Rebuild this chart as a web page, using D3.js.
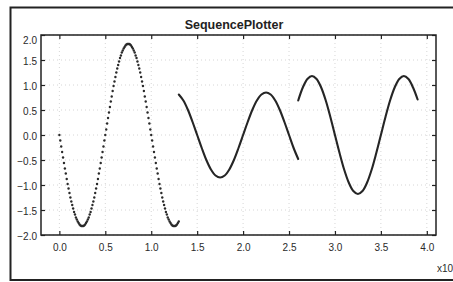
<!DOCTYPE html>
<html>
<head>
<meta charset="utf-8">
<script src="https://cdn.jsdelivr.net/npm/d3@7"></script>
<style>
  body { margin: 0; background: #fff; }
  text { font-family: "Liberation Sans", Arial, sans-serif; }
</style>
</head>
<body>
<svg id="chart" width="453" height="282"></svg>
<script>
'use strict';

// tick labels
var xTicks = [0.0, 0.5, 1.0, 1.5, 2.0, 2.5, 3.0, 3.5, 4.0];
var yTicks = [-2.0, -1.5, -1.0, -0.5, 0.0, 0.5, 1.0, 1.5, 2.0];

// first sequence: sparse dots, one sample every 0.01 starting at 0
var seq1Start = 0.0, seq1Step = 0.01;
var seq1 = [
  0.00, -0.11, -0.23, -0.34, -0.45, -0.56, -0.67, -0.77, -0.88, -0.98,
  -1.07, -1.16, -1.25, -1.33, -1.40, -1.47, -1.54, -1.59, -1.65, -1.69,
  -1.73, -1.76, -1.79, -1.81, -1.82, -1.82,
  -1.82, -1.81, -1.79, -1.76, -1.73, -1.69, -1.65, -1.59, -1.54, -1.47,
  -1.40, -1.33, -1.25, -1.16, -1.07, -0.98, -0.88, -0.77, -0.67, -0.56,
  -0.45, -0.34, -0.23, -0.11, 0.00,
  0.11, 0.23, 0.34, 0.45, 0.56, 0.67, 0.77, 0.88, 0.98, 1.07,
  1.16, 1.25, 1.33, 1.40, 1.47, 1.54, 1.59, 1.65, 1.69, 1.73,
  1.76, 1.79, 1.81, 1.82, 1.82,
  1.82, 1.81, 1.79, 1.76, 1.73, 1.69, 1.65, 1.59, 1.54, 1.47,
  1.40, 1.33, 1.25, 1.16, 1.07, 0.98, 0.88, 0.77, 0.67, 0.56,
  0.45, 0.34, 0.23, 0.11, 0.00,
  -0.11, -0.23, -0.34, -0.45, -0.56, -0.67, -0.77, -0.88, -0.98, -1.07,
  -1.16, -1.25, -1.33, -1.40, -1.47, -1.54, -1.59, -1.65, -1.69, -1.73,
  -1.76, -1.79, -1.81, -1.82, -1.82,
  -1.82, -1.81, -1.79, -1.76, -1.73
];

// second sequence (dense, looks like a line)
var seq2Start = 1.30, seq2Step = 0.05;
var seq2 = [
  0.81, 0.69, 0.50, 0.26, 0.00, -0.26, -0.50, -0.69, -0.81, -0.85,
  -0.81, -0.69, -0.50, -0.26, 0.00, 0.26, 0.50, 0.69, 0.81, 0.85,
  0.81, 0.69, 0.50, 0.26, 0.00, -0.26, -0.48
];

// third sequence
var seq3Start = 2.60, seq3Step = 0.05;
var seq3 = [
  0.69, 0.95, 1.12, 1.18, 1.12, 0.95, 0.69, 0.36, 0.00, -0.36,
  -0.69, -0.95, -1.12, -1.18, -1.12, -0.95, -0.69, -0.36, 0.00, 0.36,
  0.69, 0.95, 1.12, 1.18, 1.12, 0.95, 0.71
];

(function () {
  var svg = d3.select('#chart');
  var pLeft = 41, pRight = 436, pTop = 35, pBottom = 235;

  var x = d3.scaleLinear().domain([-0.2, 4.1]).range([pLeft, pRight]);
  var y = d3.scaleLinear().domain([-2, 2]).range([pBottom, pTop]);

  function toPoints(vals, start, step) {
    return vals.map(function (v, i) { return { x: start + i * step, y: v }; });
  }

  // outer page frame (scanned printout border)
  svg.append('rect')
    .attr('x', 10.5).attr('y', 7.5)
    .attr('width', 470).attr('height', 272.5)
    .attr('fill', 'none').attr('stroke', '#222').attr('stroke-width', 2);

  // title
  svg.append('text')
    .attr('x', 234).attr('y', 29)
    .attr('text-anchor', 'middle')
    .attr('font-size', '12.5px').attr('font-weight', 'bold')
    .attr('fill', '#222')
    .text('SequencePlotter');

  // grid
  var grid = svg.append('g').attr('stroke', '#d6d6d6').attr('stroke-dasharray', '1,3');
  grid.selectAll('.gx').data(xTicks).enter().append('line')
    .attr('x1', function (d) { return x(d); }).attr('x2', function (d) { return x(d); })
    .attr('y1', pTop).attr('y2', pBottom);
  grid.selectAll('.gy').data(yTicks).enter().append('line')
    .attr('y1', function (d) { return y(d); }).attr('y2', function (d) { return y(d); })
    .attr('x1', pLeft).attr('x2', pRight);

  // axes, ticks pointing inwards
  var fmt = d3.format('.1f');
  var gLeft = svg.append('g').attr('transform', 'translate(' + pLeft + ',0)')
    .call(d3.axisLeft(y).tickValues(yTicks).tickFormat(fmt).tickSize(-4).tickSizeOuter(0).tickPadding(4));
  var gBottom = svg.append('g').attr('transform', 'translate(0,' + pBottom + ')')
    .call(d3.axisBottom(x).tickValues(xTicks).tickFormat(fmt).tickSize(-4).tickSizeOuter(0).tickPadding(9));
  var gTop = svg.append('g').attr('transform', 'translate(0,' + pTop + ')')
    .call(d3.axisTop(x).tickValues(xTicks).tickFormat('').tickSize(-4).tickSizeOuter(0));
  var gRight = svg.append('g').attr('transform', 'translate(' + pRight + ',0)')
    .call(d3.axisRight(y).tickValues(yTicks).tickFormat('').tickSize(-4).tickSizeOuter(0));

  [gLeft, gBottom, gTop, gRight].forEach(function (g) {
    g.select('.domain').remove();
    g.selectAll('line').attr('stroke', '#222').attr('stroke-width', 1.2);
    g.selectAll('text').attr('font-size', '10px').attr('fill', '#2a2a2a')
      .style('font-family', '"Liberation Sans", Arial, sans-serif');
  });
  gLeft.selectAll('text').attr('y', function (d) { return d === 2 ? 5 : 1.5; });

  // plot frame
  svg.append('rect')
    .attr('x', pLeft).attr('y', pTop)
    .attr('width', pRight - pLeft).attr('height', pBottom - pTop)
    .attr('fill', 'none').attr('stroke', '#222').attr('stroke-width', 1.5);

  // exponent label
  svg.append('text')
    .attr('x', 437).attr('y', 272)
    .attr('font-size', '10px').attr('fill', '#2a2a2a')
    .text('x10');

  // sequence 1 as dots
  svg.append('g').selectAll('circle')
    .data(toPoints(seq1, seq1Start, seq1Step))
    .enter().append('circle')
    .attr('cx', function (d) { return x(d.x); })
    .attr('cy', function (d) { return y(d.y); })
    .attr('r', 1.2)
    .attr('fill', '#2a2a2a');

  // sequences 2 and 3, sampled densely, drawn as lines
  var line = d3.line()
    .x(function (d) { return x(d.x); })
    .y(function (d) { return y(d.y); })
    .curve(d3.curveCatmullRom);

  [[seq2, seq2Start, seq2Step], [seq3, seq3Start, seq3Step]].forEach(function (s) {
    svg.append('path')
      .datum(toPoints(s[0], s[1], s[2]))
      .attr('d', line)
      .attr('fill', 'none')
      .attr('stroke', '#252525')
      .attr('stroke-width', 2.1)
      .attr('stroke-linecap', 'round');
  });
})();
</script>
</body>
</html>
